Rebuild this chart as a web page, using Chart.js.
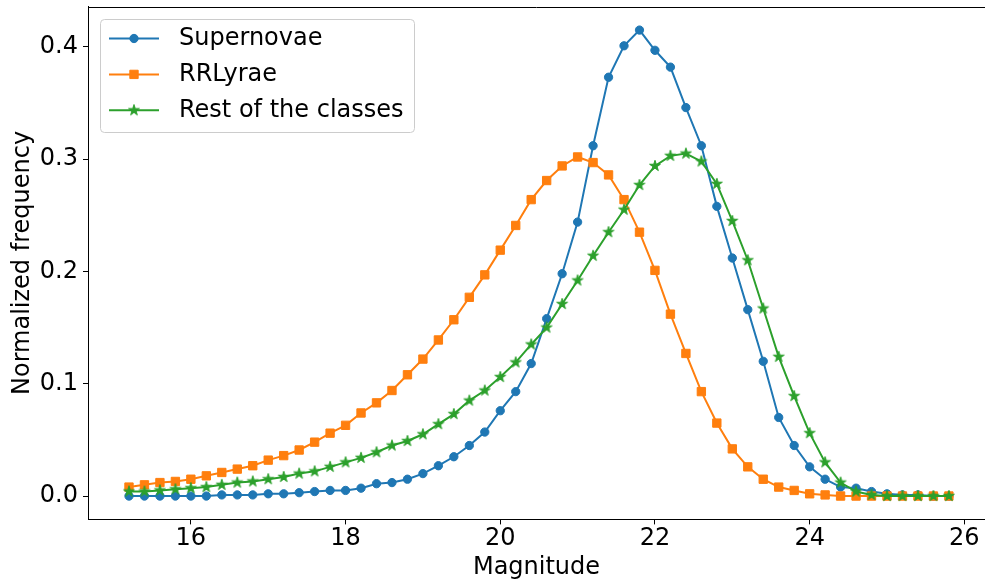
<!DOCTYPE html>
<html><head><meta charset="utf-8">
<script src="https://cdn.jsdelivr.net/npm/chart.js@4.4.0/dist/chart.umd.min.js"></script>
<style>
html,body{margin:0;padding:0;overflow:hidden;background:#fff;width:985px;height:580px}
canvas{display:block}
</style>
</head><body>
<canvas id="c" width="985" height="580" style="width:985px;height:580px"></canvas>
<script>
// ---- data ----
const magnitudes = [15.2,15.4,15.6,15.8,16.0,16.2,16.4,16.6,16.8,17.0,17.2,17.4,17.6,17.8,18.0,18.2,18.4,18.6,18.8,19.0,
  19.2,19.4,19.6,19.8,20.0,20.2,20.4,20.6,20.8,21.0,21.2,21.4,21.6,21.8,22.0,22.2,22.4,22.6,22.8,23.0,
  23.2,23.4,23.6,23.8,24.0,24.2,24.4,24.6,24.8,25.0,25.2,25.4,25.6,25.8];
const supernovae = [0.000,0.000,0.000,0.000,0.000,0.000,0.001,0.001,0.001,0.002,0.002,0.003,0.004,0.005,0.005,0.007,0.011,0.012,0.015,0.020,
  0.027,0.035,0.045,0.057,0.076,0.093,0.118,0.158,0.198,0.244,0.312,0.373,0.401,0.415,0.397,0.382,0.346,0.312,0.258,0.212,
  0.166,0.120,0.070,0.045,0.026,0.015,0.008,0.007,0.004,0.002,0.001,0.001,0.000,0.000];
const rrlyrae = [0.008,0.010,0.012,0.013,0.015,0.018,0.021,0.024,0.027,0.032,0.036,0.041,0.048,0.056,0.063,0.074,0.083,0.094,0.108,0.122,
  0.139,0.157,0.177,0.197,0.219,0.241,0.264,0.281,0.294,0.302,0.297,0.286,0.264,0.235,0.201,0.162,0.127,0.093,0.065,0.042,
  0.026,0.015,0.008,0.005,0.002,0.001,0.000,0.000,0.000,0.000,0.000,0.000,0.000,0.000];
const restClasses = [0.004,0.004,0.005,0.006,0.007,0.008,0.010,0.012,0.013,0.015,0.017,0.020,0.022,0.026,0.030,0.034,0.039,0.045,0.049,0.055,
  0.064,0.073,0.085,0.094,0.106,0.119,0.135,0.150,0.171,0.192,0.214,0.235,0.255,0.277,0.294,0.303,0.305,0.298,0.278,0.245,
  0.210,0.167,0.124,0.089,0.056,0.030,0.012,0.004,0.001,0.000,0.000,0.000,0.000,0.000];
const seriesNames = ['Supernovae','RRLyrae','Rest of the classes'];
const xTicks = [16,18,20,22,24,26];
const yTicks = [0.0,0.1,0.2,0.3,0.4];
const xLabel = 'Magnitude';
const yLabel = 'Normalized frequency';

// ---- styles ----
const FONT = 'DejaVu Sans';
const colors = ['#1f77b4','#ff7f0e','#2ca02c'];
const CIRCLE_R = 4.15, RECT_R = 5.9, STAR_R = 5.7;

function makeStar(color, R) {
  const s = Math.ceil(R * 2 + 4);
  const c = document.createElement('canvas');
  c.width = s; c.height = s;
  const g = c.getContext('2d');
  g.translate(s / 2, s / 2);
  g.beginPath();
  for (let i = 0; i < 10; i++) {
    const r = (i % 2) ? R * 0.381966 : R;
    const a = -Math.PI / 2 + i * Math.PI / 5;
    g.lineTo(r * Math.cos(a), r * Math.sin(a));
  }
  g.closePath();
  g.fillStyle = color; g.fill();
  g.lineWidth = 1; g.strokeStyle = color; g.stroke();
  return c;
}
const starImg = makeStar(colors[2], STAR_R);

const toPts = arr => arr.map((v, i) => ({x: magnitudes[i], y: v}));

const frame = {
  id: 'frame',
  afterDatasetsDraw(chart) {
    const {ctx, chartArea: a} = chart;
    ctx.save();
    ctx.strokeStyle = '#000';
    ctx.lineWidth = 1;
    ctx.beginPath();
    const y = Math.round(a.top) + 0.5;
    ctx.moveTo(a.left, y); ctx.lineTo(a.right, y);
    ctx.stroke();
    ctx.restore();
  },
  afterDraw(chart) {
    const ctx = chart.ctx;
    ctx.save();
    // legend box
    const bx = 100.5, by = 19.5, bw = 314, bh = 113, r = 4;
    ctx.beginPath();
    ctx.moveTo(bx + r, by);
    ctx.lineTo(bx + bw - r, by); ctx.quadraticCurveTo(bx + bw, by, bx + bw, by + r);
    ctx.lineTo(bx + bw, by + bh - r); ctx.quadraticCurveTo(bx + bw, by + bh, bx + bw - r, by + bh);
    ctx.lineTo(bx + r, by + bh); ctx.quadraticCurveTo(bx, by + bh, bx, by + bh - r);
    ctx.lineTo(bx, by + r); ctx.quadraticCurveTo(bx, by, bx + r, by);
    ctx.closePath();
    ctx.fillStyle = 'rgba(255,255,255,0.8)';
    ctx.fill();
    ctx.strokeStyle = '#cccccc';
    ctx.lineWidth = 1;
    ctx.stroke();
    const rows = [38.5, 74.4, 110.3];
    ctx.font = '24px "' + FONT + '"';
    ctx.textBaseline = 'middle';
    ctx.textAlign = 'left';
    seriesNames.forEach((name, i) => {
      const y = rows[i];
      ctx.strokeStyle = colors[i];
      ctx.lineWidth = 2;
      ctx.beginPath(); ctx.moveTo(109, y); ctx.lineTo(159, y); ctx.stroke();
      ctx.fillStyle = colors[i];
      ctx.lineWidth = 1;
      if (i === 0) {
        ctx.beginPath(); ctx.arc(134, y, CIRCLE_R, 0, Math.PI * 2); ctx.fill(); ctx.stroke();
      } else if (i === 1) {
        const h = RECT_R * Math.SQRT1_2;
        ctx.beginPath(); ctx.rect(134 - h, y - h, 2 * h, 2 * h); ctx.fill(); ctx.stroke();
      } else {
        ctx.drawImage(starImg, 134 - starImg.width / 2, y - starImg.height / 2);
      }
      ctx.fillStyle = '#000';
      ctx.fillText(name, 179, y);
    });
    ctx.restore();
  }
};

const ds = (label, data, i, style, radius) => ({
  label, data: toPts(data),
  borderColor: colors[i], backgroundColor: colors[i],
  borderWidth: 2, tension: 0,
  pointStyle: style, pointRadius: radius, pointBorderWidth: 1,
  pointBorderColor: colors[i], pointBackgroundColor: colors[i],
  order: 3 - i
});

new Chart(document.getElementById('c'), {
  type: 'line',
  data: {
    datasets: [
      ds(seriesNames[0], supernovae, 0, 'circle', CIRCLE_R),
      ds(seriesNames[1], rrlyrae, 1, 'rect', RECT_R),
      ds(seriesNames[2], restClasses, 2, starImg, STAR_R)
    ]
  },
  options: {
    responsive: false,
    animation: false,
    events: [],
    layout: {autoPadding: false, padding: {top: 6.5, left: 0, right: 0, bottom: 0}},
    plugins: {legend: {display: false}, tooltip: {enabled: false}},
    scales: {
      x: {
        type: 'linear', min: 14.67, max: 26.267,
        afterBuildTicks: s => { s.ticks = xTicks.map(v => ({value: v})); },
        afterFit: s => { s.height = 60.6; s.paddingLeft = 0; s.paddingRight = 0; },
        grid: {drawOnChartArea: false, drawTicks: true, tickLength: 5, color: '#000', tickWidth: 1},
        border: {display: true, color: '#000', width: 1},
        ticks: {color: '#000', padding: 0, maxRotation: 0, autoSkip: false,
          font: {family: FONT, size: 24}, callback: v => String(v)},
        title: {display: true, text: xLabel, color: '#000',
          font: {family: FONT, size: 24, lineHeight: 1}, padding: {top: 0, bottom: 0.5}}
      },
      y: {
        type: 'linear', min: -0.0208, max: 0.436,
        afterBuildTicks: s => { s.ticks = yTicks.map(v => ({value: v})); },
        afterFit: s => { s.width = 88; s.paddingTop = 0; s.paddingBottom = 0; },
        grid: {drawOnChartArea: false, drawTicks: true, tickLength: 5, color: '#000', tickWidth: 1},
        border: {display: true, color: '#000', width: 1},
        ticks: {color: '#000', padding: 5, autoSkip: false,
          font: {family: FONT, size: 24}, callback: v => Number(v).toFixed(1)},
        title: {display: true, text: yLabel, color: '#000',
          font: {family: FONT, size: 24, lineHeight: 1.2}, padding: {top: 8.2, bottom: 0}}
      }
    }
  },
  plugins: [frame]
});
</script>
</body></html>
